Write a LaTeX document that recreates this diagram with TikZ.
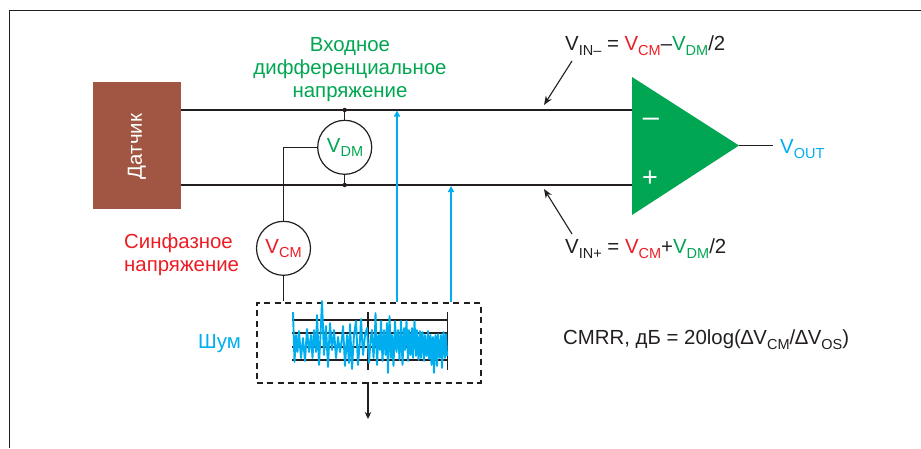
\documentclass[tikz,border=0pt]{standalone}
\usepackage{fontspec}
\setmainfont{Liberation Sans}
\usetikzlibrary{arrows.meta}
\definecolor{gr}{RGB}{0,166,81}
\definecolor{rd}{RGB}{237,28,36}
\definecolor{bl}{RGB}{0,174,239}
\definecolor{br}{RGB}{160,86,66}
\definecolor{ink}{RGB}{35,31,32}
\tikzset{x=1pt,y=-1pt,
 wire/.style={draw=ink,line width=1.1pt},
 thin wire/.style={draw=ink,line width=1.2pt},
 tag/.style={inner sep=0pt,font=\fontsize{20.4}{23}\selectfont,align=center},
 meter/.style={circle,draw=ink,line width=1.2pt,minimum size=54pt,inner sep=0pt,fill=white},
 bluearrow/.style={draw=bl,-{Triangle[length=6pt,width=6pt]}},
 inkarrow/.style={draw=ink,line width=1.1pt,-{Stealth[length=9pt,width=7pt]}},
 grid/.style={draw=ink,line width=1.3pt},
}
\newcommand{\sbs}[1]{\raisebox{-4.5pt}{\fontsize{14.5}{14.5}\selectfont #1}}
\begin{document}
\begin{tikzpicture}
\useasboundingbox (0,0) rectangle (921,448);
\draw[draw=ink,line width=1pt] (9.5,448) -- (9.5,10.5) -- (921,10.5);
\node[fill=br,minimum width=88pt,minimum height=127pt,inner sep=0pt,anchor=north west] (sensor) at (93,82) {};
\node[rotate=90,text=white,tag] at (137,146.5) {Датчик};
\path[fill=gr] (632,77) -- (739,145.5) -- (632,215) -- cycle;
\coordinate (ampm) at (632,110);
\coordinate (ampp) at (632,185);
\coordinate (ampo) at (739,145.5);
\coordinate (outend) at (773,145.5);
\coordinate (sm) at (181,110);
\coordinate (sp) at (181,185);
\draw[wire] (sm) -- (ampm);
\draw[wire] (sp) -- (ampp);
\draw[wire] (ampo) -- (outend);
\node[text=white,font=\fontsize{29}{29}\selectfont,inner sep=0pt] at (651,122) {–};
\node[text=white,font=\fontsize{27}{27}\selectfont,inner sep=0pt] at (650,179) {+};
\node[meter] (vdm) at (344.7,147.3) {};
\node[meter] (vcm) at (283.5,248.3) {};
\node[tag,text=gr] at (345,147.5) {V\sbs{DM}};
\node[tag,text=rd] at (283.5,248.5) {V\sbs{CM}};
\fill[ink] (344.7,110) circle (2.2pt) coordinate (dm1);
\fill[ink] (344.7,185) circle (2.2pt) coordinate (dm2);
\draw[thin wire] (dm1) -- (vdm);
\draw[thin wire] (dm2) -- (vdm);
\draw[thin wire] (vdm.west) -- (283.5,147.3) -- (vcm.north);
\coordinate (nbtop) at (283.5,301);
\draw[thin wire] (vcm.south) -- (nbtop);
\node[tag,text=gr,anchor=north] at (350,37.5) {Входное\\дифференциальное\\напряжение};
\node[tag,text=rd,align=left,anchor=north west] at (124,234) {Синфазное\\напряжение};
\node[tag,text=bl,anchor=west] at (198,343.5) {Шум};
\node[tag,anchor=west,text=ink] at (565,45.5) {V\sbs{IN–} = \textcolor{rd}{V\sbs{CM}}–\textcolor{gr}{V\sbs{DM}}/2};
\node[tag,anchor=west,text=ink] at (565,248.5) {V\sbs{IN+} = \textcolor{rd}{V\sbs{CM}}+\textcolor{gr}{V\sbs{DM}}/2};
\node[tag,anchor=west,text=bl] at (780,149) {V\sbs{OUT}};
\node[tag,anchor=west,text=ink] at (563,339.5) {CMRR, дБ = 20log(∆V\sbs{CM}/∆V\sbs{OS})};
\coordinate (a1s) at (572,61);
\coordinate (a1e) at (544,105);
\coordinate (a2s) at (572,234);
\coordinate (a2e) at (544,189);
\draw[inkarrow] (a1s) -- (a1e);
\draw[inkarrow] (a2s) -- (a2e);
\node[draw=ink,dash pattern=on 6pt off 4.5pt,line width=1.5pt,minimum width=224pt,minimum height=80pt,inner sep=0pt,anchor=north west] (nbox) at (256,302) {};
\coordinate (b1s) at (397,302);
\coordinate (b1e) at (397,110.5);
\coordinate (b2s) at (451,302);
\coordinate (b2e) at (451,186);
\draw[bluearrow,line width=1.8pt] (b1s) -- (b1e);
\draw[bluearrow,line width=1.3pt] (b2s) -- (b2e);
\coordinate (dn) at (368,382);
\coordinate (dne) at (368,419);
\draw[draw=ink,line width=1.1pt,-{Stealth[length=7pt,width=6.5pt]}] (dn) -- (dne);
\foreach \y in {320,333,347,360} \draw[grid] (292,\y) -- (447.5,\y);
\draw[grid] (368,312) -- (368,370);
\draw[grid] (447.5,312) -- (447.5,370);
\draw[draw=bl,line width=1.9pt,line join=round]
 (293,312)--(294.5,362)--(296,335)--(297.5,352)--(299,331)--(301,358)--(303,338)--(305,361)--(307,329)--(309,352)--(311,335)--(312.5,358)--(314,330)--(316,352)--(317,315)--(319,365)--(320.5,335)--(322,301)--(324,355)--(326,326)--(328,367)--(330,323)--(332,350)--(334,330)--(336,358)--(338,337)--(340,352)--(342,338)--(343,326)--(345,366)--(347,335)--(349,363)--(350,324)--(352,369)--(354,335)--(356,321)--(358,365)--(360,340)--(361,319)--(363,355)--(365,335)--(367,328)--(369,363)--(370.5,340)--(372,330)--(373.5,358)--(375,333)--(375.5,313)--(377,365)--(378.5,335)--(380,350)--(381,321)--(382.5,361)--(384,330)--(385.5,355)--(387,323)--(388,373)--(389.5,316)--(391,358)--(392,335)--(393.5,366)--(395,321)--(396.5,352)--(398,330)--(399.5,360)--(401,321)--(402.5,365)--(404,328)--(405,350)--(406.5,321)--(408,361)--(409,330)--(410.5,355)--(412,328)--(413,358)--(414.5,321)--(416,356)--(417,330)--(418.5,360)--(420,331)--(421,358)--(422.5,332)--(424,361)--(425,335)--(426.5,356)--(428,331)--(429,359)--(430.5,335)--(431.5,365)--(433,337)--(434,373)--(435.5,335)--(437,366)--(438,334)--(439.5,358)--(441,335)--(442,368)--(443.5,332)--(445,358)--(446,334)--(447,356);
\end{tikzpicture}
\end{document}
